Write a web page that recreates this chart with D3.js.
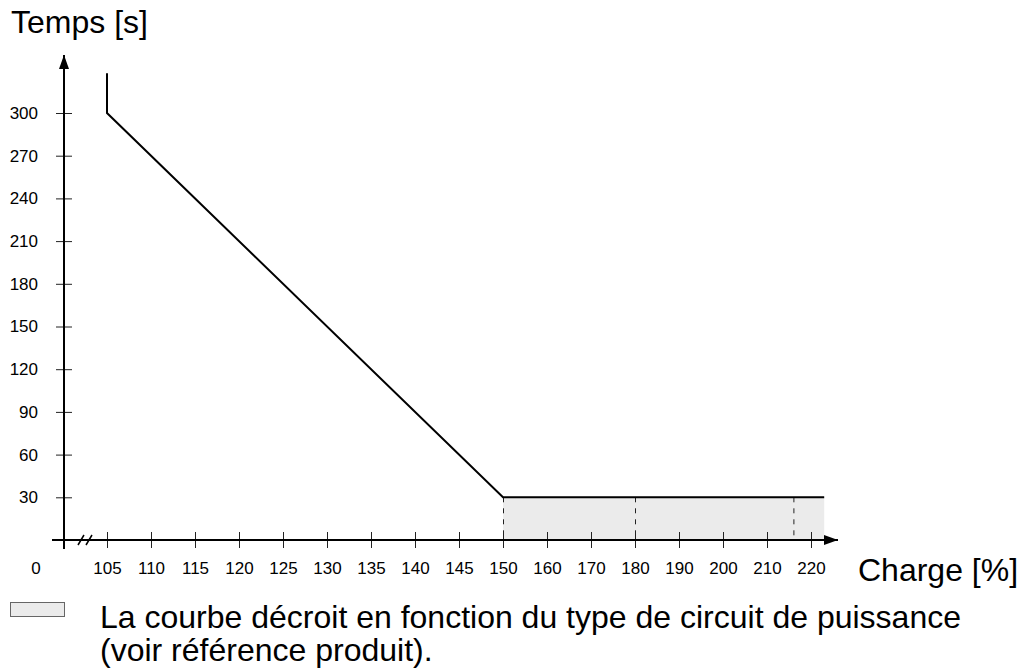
<!DOCTYPE html>
<html><head><meta charset="utf-8">
<script src="https://cdn.jsdelivr.net/npm/d3@7"></script>
<style>
body{margin:0;background:#fff;}
svg{display:block;font-family:"Liberation Sans",Arial,sans-serif;}
</style></head>
<body><svg id="c" width="1021" height="669"></svg>
<script>
// ---- data ----
const xTicks = [105,110,115,120,125,130,135,140,145,150,160,170,180,190,200,210,220];
const yTicks = [30,60,90,120,150,180,210,240,270,300];
const curveX = [105,105,150,223];
const curveY = [328,300,30,30];
const bandStart = 150, bandEnd = 223, bandValue = 30;
const dashedX = [150,180,216];
const originLabel = "0";
const yTitle = "Temps [s]";
const xTitle = "Charge [%]";
const legendLines = ["La courbe décroit en fonction du type de circuit de puissance","(voir référence produit)."];

// ---- layout ----
const svg = d3.select("#c");
const ox = 64, oy = 540;
const x = d3.scaleLinear().domain([105,150,220]).range([107,503,811]);
const y = d3.scaleLinear().domain([0,300]).range([oy,113]);
const ink = "#000";
const tickFont = 17, titleFont = 32;

// shaded band
svg.append("rect")
  .attr("x", x(bandStart)).attr("y", y(bandValue))
  .attr("width", x(bandEnd)-x(bandStart)).attr("height", y(0)-y(bandValue))
  .attr("fill","#ebebeb");

// dashed verticals
svg.selectAll("line.dash").data(dashedX).join("line")
  .attr("x1",d=>x(d)+0.5).attr("x2",d=>x(d)+0.5)
  .attr("y1",y(bandValue)).attr("y2",y(0))
  .attr("stroke","#222").attr("stroke-width",1).attr("stroke-dasharray","5,6");

// arrow marker
const defs = svg.append("defs");
defs.append("marker").attr("id","arr").attr("viewBox","0 0 14 10")
  .attr("refX",14).attr("refY",5).attr("markerWidth",14).attr("markerHeight",10)
  .attr("markerUnits","userSpaceOnUse").attr("orient","auto")
  .append("path").attr("d","M0,0L14,5L0,10Z").attr("fill",ink);

// y axis
const gy = svg.append("g").attr("transform",`translate(${ox},0)`)
  .call(d3.axisLeft(y).tickValues(yTicks).tickSize(8).tickPadding(18));
gy.select(".domain").remove();
gy.selectAll(".tick line").attr("x1",-8).attr("x2",8).attr("stroke","#222");
gy.selectAll(".tick text").attr("font-size",tickFont).attr("fill",ink).attr("x",-26);

// x axis
const gx = svg.append("g").attr("transform",`translate(0,${oy})`)
  .call(d3.axisBottom(x).tickValues(xTicks).tickFormat(d3.format("d")).tickSize(8).tickPadding(14));
gx.select(".domain").remove();
gx.selectAll(".tick line").attr("y1",-8).attr("y2",8).attr("stroke","#222");
gx.selectAll(".tick text").attr("font-size",tickFont).attr("fill",ink);

// origin label
svg.append("text").attr("x",ox-28).attr("y",oy+22).attr("dy","0.71em")
  .attr("text-anchor","middle").attr("font-size",tickFont).attr("fill",ink).text(originLabel);

// axis lines
svg.append("line").attr("x1",ox).attr("x2",ox).attr("y1",oy+9).attr("y2",55)
  .attr("stroke",ink).attr("stroke-width",2).attr("marker-end","url(#arr)");
svg.append("line").attr("x1",52).attr("x2",838).attr("y1",oy).attr("y2",oy)
  .attr("stroke",ink).attr("stroke-width",2).attr("marker-end","url(#arr)");

// break marks
[78,86].forEach(bx=>{
  svg.append("line").attr("x1",bx).attr("y1",oy+5).attr("x2",bx+6).attr("y2",oy-5)
    .attr("stroke",ink).attr("stroke-width",1.5);
});

// curve
const pts = curveX.map((d,i)=>[d,curveY[i]]);
svg.append("path").datum(pts)
  .attr("d", d3.line().x(d=>x(d[0])).y(d=>y(d[1])))
  .attr("fill","none").attr("stroke",ink).attr("stroke-width",2);

// titles
svg.append("text").attr("x",11).attr("y",33).attr("font-size",titleFont).attr("fill",ink).text(yTitle);
svg.append("text").attr("x",858).attr("y",581).attr("font-size",titleFont).attr("fill",ink).text(xTitle);

// legend
svg.append("rect").attr("x",10.5).attr("y",602.5).attr("width",54).attr("height",14)
  .attr("fill","#ebebeb").attr("stroke","#666").attr("stroke-width",1);
svg.selectAll("text.leg").data(legendLines).join("text").attr("class","leg")
  .attr("x",100).attr("y",(d,i)=>628+i*33).attr("font-size",titleFont).attr("fill",ink).text(d=>d);
</script></body></html>
